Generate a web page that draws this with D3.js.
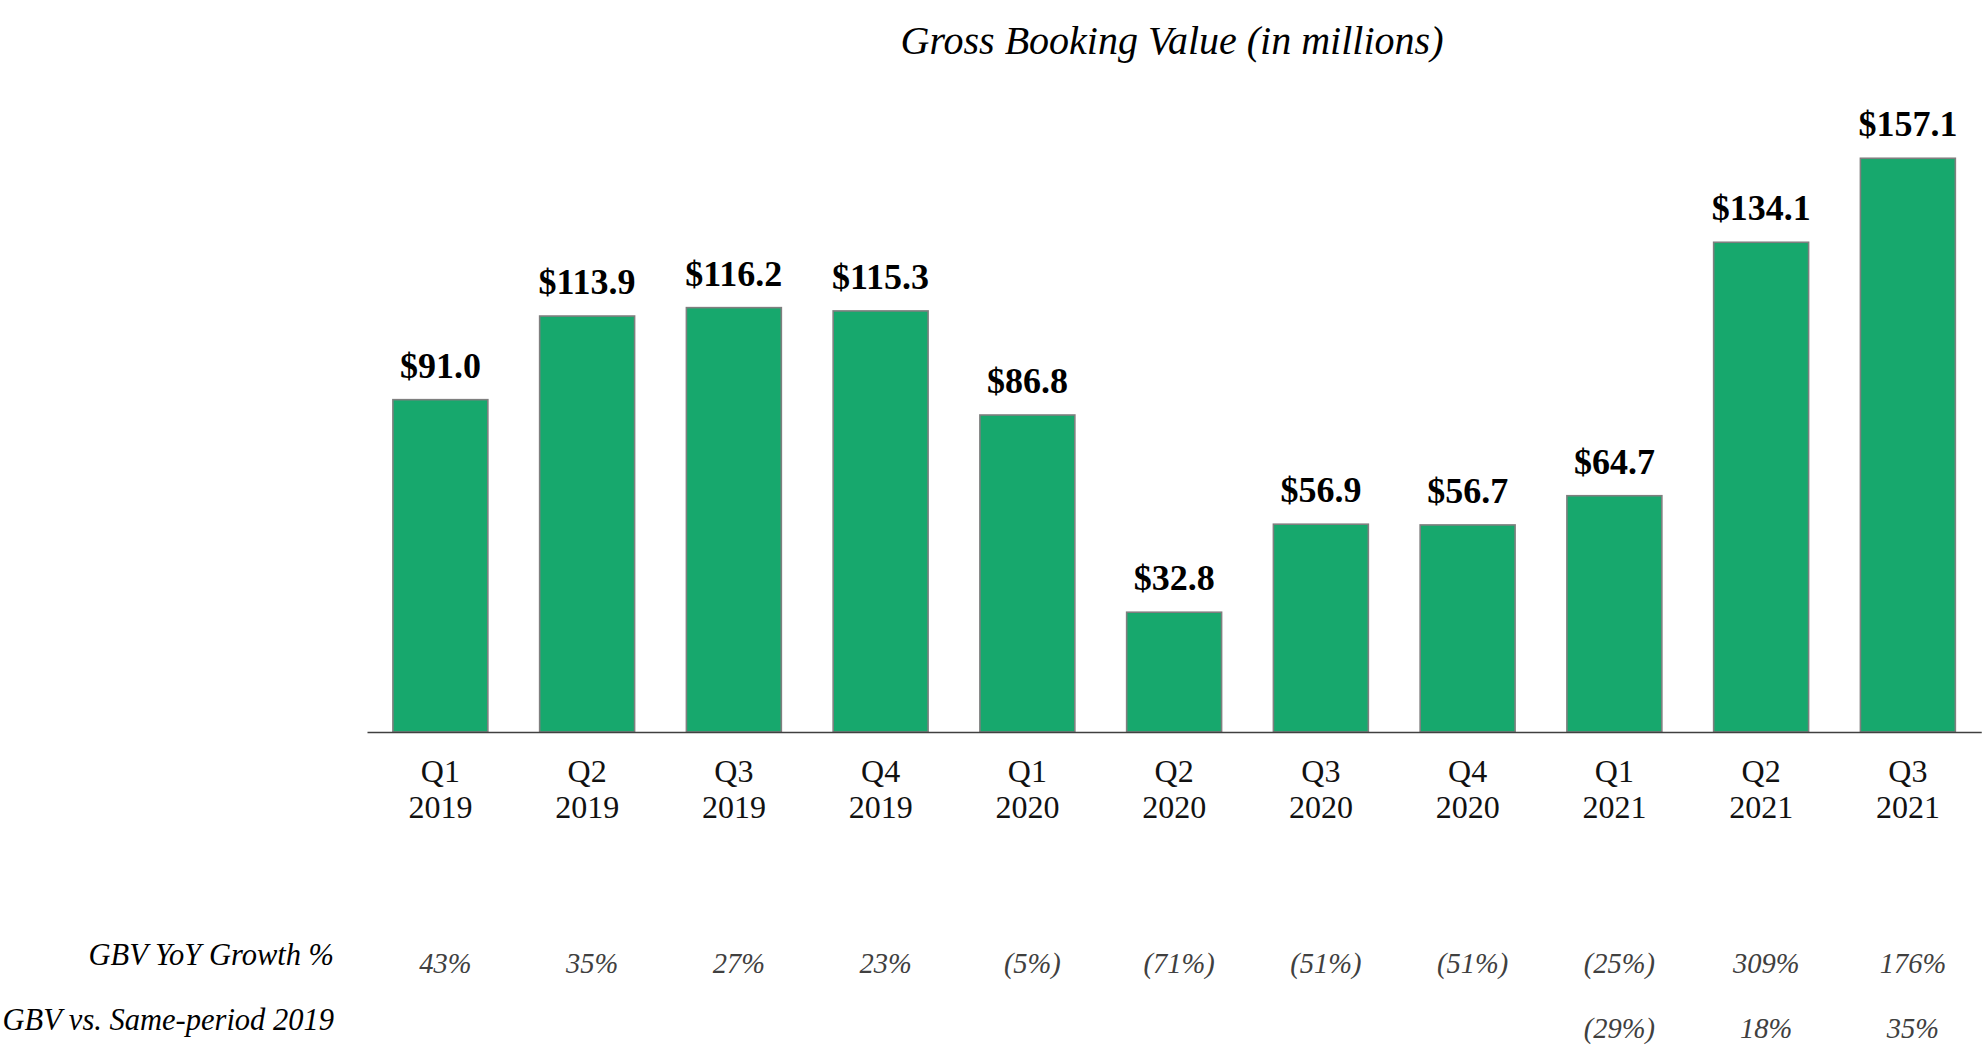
<!DOCTYPE html>
<html>
<head>
<meta charset="utf-8">
<script src="https://cdn.jsdelivr.net/npm/d3@7"></script>
<style>
  html, body { margin: 0; padding: 0; background: #ffffff; }
  svg { display: block; }
</style>
</head>
<body>
<svg id="chart" width="1987" height="1058"></svg>
<script>
const quarters = ["Q1", "Q2", "Q3", "Q4", "Q1", "Q2", "Q3", "Q4", "Q1", "Q2", "Q3"];
const years = ["2019", "2019", "2019", "2019", "2020", "2020", "2020", "2020", "2021", "2021", "2021"];
const gbv = [91.0, 113.9, 116.2, 115.3, 86.8, 32.8, 56.9, 56.7, 64.7, 134.1, 157.1];
const yoyGrowth = ["43%", "35%", "27%", "23%", "(5%)", "(71%)", "(51%)", "(51%)", "(25%)", "309%", "176%"];
const vs2019 = ["", "", "", "", "", "", "", "", "(29%)", "18%", "35%"];
const rowLabels = ["GBV YoY Growth %", "GBV vs. Same-period 2019"];
const title = "Gross Booking Value (in millions)";

const keys = quarters.map((q, i) => q + " " + years[i]);
const svg = d3.select("#chart");
const serif = "'Liberation Serif', 'Times New Roman', Times, serif";

const x = d3.scaleBand()
  .domain(keys)
  .range([367, 367 + 11 * 146.75])
  .paddingInner(0.353)
  .paddingOuter(0.1765);

const y = d3.scaleLinear().domain([0, 160]).range([732, 732 - 160 * 3.652]);

// title
svg.append("text")
  .attr("x", 1172).attr("y", 54)
  .attr("text-anchor", "middle")
  .attr("font-family", serif).attr("font-style", "italic")
  .attr("font-size", 40).attr("fill", "#000")
  .text(title);

// bars
svg.append("g").selectAll("rect")
  .data(gbv)
  .join("rect")
  .attr("x", (d, i) => x(keys[i]))
  .attr("y", d => y(d))
  .attr("width", x.bandwidth())
  .attr("height", d => y(0) - y(d))
  .attr("fill", "#17A86D")
  .attr("stroke", "#7F7F7F")
  .attr("stroke-width", 1.6);

// baseline axis
const xAxis = d3.axisBottom(x).tickSize(0).tickFormat("");
const axisG = svg.append("g").attr("transform", `translate(0,${y(0)})`).call(xAxis);
axisG.select(".domain").attr("stroke", "#404040").attr("stroke-width", 1.3);

// value labels
svg.append("g").selectAll("text")
  .data(gbv)
  .join("text")
  .attr("x", (d, i) => x(keys[i]) + x.bandwidth() / 2)
  .attr("y", d => y(d) - 22)
  .attr("text-anchor", "middle")
  .attr("font-family", serif).attr("font-weight", "bold")
  .attr("font-size", 36).attr("fill", "#000")
  .text(d => "$" + d.toFixed(1));

// category labels
const cat = svg.append("g").selectAll("text")
  .data(keys)
  .join("text")
  .attr("text-anchor", "middle")
  .attr("font-family", serif)
  .attr("font-size", 32).attr("fill", "#111");
cat.append("tspan")
  .attr("x", d => x(d) + x.bandwidth() / 2).attr("y", 782)
  .text((d, i) => quarters[i]);
cat.append("tspan")
  .attr("x", d => x(d) + x.bandwidth() / 2).attr("y", 818)
  .text((d, i) => years[i]);

// row labels
const rowY = [965, 1030];
svg.append("g").selectAll("text")
  .data(rowLabels)
  .join("text")
  .attr("x", 334).attr("y", (d, i) => rowY[i])
  .attr("text-anchor", "end")
  .attr("font-family", serif).attr("font-style", "italic")
  .attr("font-size", 30.5).attr("fill", "#000")
  .text(d => d);

// row values
[yoyGrowth, vs2019].forEach((row, r) => {
  svg.append("g").selectAll("text")
    .data(row)
    .join("text")
    .attr("x", (d, i) => x(keys[i]) + x.bandwidth() / 2 + 5)
    .attr("y", rowY[r] + 8)
    .attr("text-anchor", "middle")
    .attr("font-family", serif).attr("font-style", "italic")
    .attr("font-size", 28.5).attr("fill", "#404040")
    .text(d => d);
});
</script>
</body>
</html>
